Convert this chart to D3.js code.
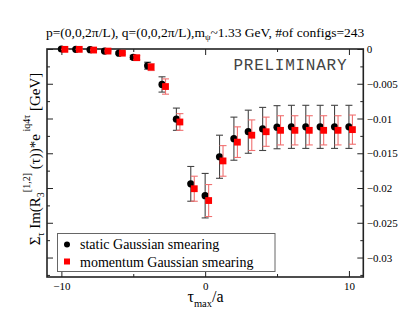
<!DOCTYPE html>
<html><head><meta charset="utf-8">
<script src="https://cdn.jsdelivr.net/npm/d3@7"></script>
<style>body{margin:0;background:#fff}svg{display:block}text{font-family:"Liberation Serif","Times New Roman",serif}</style>
</head><body>
<script>
const tau = [-10,-9,-8,-7,-6,-5,-4,-3,-2,-1,0,1,2,3,4,5,6,7,8,9,10];
const staticVals = [0,-0.00005,-0.0001,-0.0003,-0.0006,-0.0012,-0.0024,-0.0051,-0.0101,-0.0194,-0.0211,-0.0155,-0.0129,-0.0119,-0.0115,-0.01125,-0.0112,-0.0112,-0.0112,-0.0112,-0.0112];
const staticErr = [0.00003,0.00003,0.00005,0.0001,0.00015,0.0003,0.0005,0.0011,0.0016,0.0025,0.0032,0.0031,0.0031,0.0031,0.0031,0.0031,0.0031,0.0031,0.0031,0.0031,0.0031];
const momVals = [-0.00005,-0.00005,-0.00015,-0.0003,-0.0006,-0.00125,-0.0026,-0.0054,-0.0105,-0.0201,-0.0218,-0.0161,-0.0134,-0.0124,-0.0119,-0.0117,-0.0117,-0.0117,-0.0117,-0.0117,-0.0116];
const momErr = [0.00003,0.00003,0.00005,0.0001,0.00015,0.0003,0.0005,0.0011,0.0012,0.0018,0.0023,0.0022,0.0022,0.0022,0.0021,0.0021,0.0021,0.0021,0.0021,0.0021,0.0021];
const xTicks = [-10,0,10];
const xMinor = [-5,5];
const yTicks = [0,-0.005,-0.01,-0.015,-0.02,-0.025,-0.03];
const yMinor = [-0.0025,-0.0075,-0.0125,-0.0175,-0.0225,-0.0275,-0.0325];
const seriesNames = ["static Gaussian smearing","momentum Gaussian smearing"];

const W=409,H=327;
const L=47,R=363.3,T=49,B=277;
const x=d3.scaleLinear().domain([-11,11]).range([L,R]);
const y=d3.scaleLinear().domain([-0.0328,0]).range([B,T]);
const svg=d3.select("body").append("svg").attr("width",W).attr("height",H);
const serif="'Liberation Serif','Times New Roman',serif";

// title
const title=svg.append("text").attr("x",(L+R)/2).attr("y",37).attr("text-anchor","middle").attr("font-size",13.5).attr("fill","#000");
title.append("tspan").text("p=(0,0,2\u03c0/L), q=(0,0,2\u03c0/L),m");
title.append("tspan").attr("font-size",9).attr("dy",3).text("\u03c8");
title.append("tspan").attr("dy",-3).text("~1.33 GeV, #of configs=243");

// PRELIMINARY
svg.append("text").attr("x",233.5).attr("y",70.3)
  .attr("font-size",16).attr("fill","#444").attr("textLength",113).attr("lengthAdjust","spacing")
  .style("font-family","'Liberation Mono','DejaVu Sans Mono',monospace").text("PRELIMINARY");

// axes
const axG=svg.append("g");
const frameColor="#222";
axG.append("g").attr("transform",`translate(0,${B})`).call(d3.axisBottom(x).tickValues(xTicks).tickSize(-6).tickPadding(5).tickFormat(d3.format("d")));
axG.append("g").attr("transform",`translate(0,${T})`).call(d3.axisTop(x).tickValues(xTicks).tickSize(-6).tickFormat(""));
axG.append("g").attr("transform",`translate(0,${B})`).call(d3.axisBottom(x).tickValues(xMinor).tickSize(-3).tickFormat(""));
axG.append("g").attr("transform",`translate(0,${T})`).call(d3.axisTop(x).tickValues(xMinor).tickSize(-3).tickFormat(""));
axG.append("g").attr("transform",`translate(${R},0)`).call(d3.axisRight(y).tickValues(yTicks).tickSize(-6).tickPadding(3.5).tickFormat(d=>d===0?"0":d3.format("")(d)));
axG.append("g").attr("transform",`translate(${L},0)`).call(d3.axisLeft(y).tickValues(yTicks).tickSize(-6).tickFormat(""));
const ym=yMinor.filter(v=>v>-0.0328);
axG.append("g").attr("transform",`translate(${R},0)`).call(d3.axisRight(y).tickValues(ym).tickSize(-3).tickFormat(""));
axG.append("g").attr("transform",`translate(${L},0)`).call(d3.axisLeft(y).tickValues(ym).tickSize(-3).tickFormat(""));
axG.selectAll("g").attr("font-family",serif);
axG.selectAll(".domain").remove();
axG.selectAll(".tick line").attr("stroke",frameColor).attr("stroke-width",1);
axG.selectAll(".tick text").attr("font-size",11).attr("fill","#000").style("font-family",serif);
svg.append("rect").attr("x",L).attr("y",T).attr("width",R-L).attr("height",B-T).attr("fill","none").attr("stroke",frameColor).attr("stroke-width",1.6);

// data
const cap=3.5;
function errBars(vals,errs,dx,color,width){
  const g=svg.append("g").attr("stroke",color).attr("stroke-width",width).attr("fill","none");
  tau.forEach((t,i)=>{
    const cx=x(t)+dx,y1=y(vals[i]+errs[i]),y2=y(vals[i]-errs[i]);
    g.append("line").attr("x1",cx).attr("x2",cx).attr("y1",y1).attr("y2",y2);
    g.append("line").attr("x1",cx-cap).attr("x2",cx+cap).attr("y1",y1).attr("y2",y1);
    g.append("line").attr("x1",cx-cap).attr("x2",cx+cap).attr("y1",y2).attr("y2",y2);
  });
}
errBars(staticVals,staticErr,0,"#444",1.1);
svg.append("g").selectAll("circle").data(tau).join("circle")
  .attr("cx",d=>x(d)).attr("cy",(d,i)=>y(staticVals[i])).attr("r",3.6).attr("fill","#000");
errBars(momVals,momErr,3.5,"#f07070",1.1);
svg.append("g").selectAll("rect").data(tau).join("rect")
  .attr("x",d=>x(d)+3.5-3.4).attr("y",(d,i)=>y(momVals[i])-3.4).attr("width",6.8).attr("height",6.8).attr("fill","#f00");

// legend
const lg=svg.append("g");
lg.append("rect").attr("x",57.5).attr("y",233.5).attr("width",217.5).attr("height",38).attr("fill","#fff").attr("stroke","#666").attr("stroke-width",1);
lg.append("circle").attr("cx",67).attr("cy",244.5).attr("r",3).attr("fill","#000");
lg.append("rect").attr("x",64).attr("y",258.5).attr("width",6).attr("height",6).attr("fill","#f00");
lg.append("text").attr("x",80).attr("y",249).attr("font-size",14).text(seriesNames[0]);
lg.append("text").attr("x",80).attr("y",266.5).attr("font-size",14).text(seriesNames[1]);

// x label
const xl=svg.append("text").attr("x",205.5).attr("y",302).attr("text-anchor","middle").attr("font-size",16);
xl.append("tspan").text("\u03c4");
xl.append("tspan").attr("font-size",10.5).attr("dy",5).text("max");
xl.append("tspan").attr("dy",-5).text("/a");

// y label
const yl=svg.append("text").attr("transform","translate(40,159) rotate(-90)").attr("text-anchor","middle").attr("font-size",15);
yl.append("tspan").text("\u03a3");
yl.append("tspan").attr("font-size",10).attr("dy",4).text("\u03c4");
yl.append("tspan").attr("dy",-4).text(" Im(R");
yl.append("tspan").attr("font-size",10).attr("dy",4).text("3");
yl.append("tspan").attr("font-size",10).attr("dy",-14).text("[1,2]");
yl.append("tspan").attr("dy",10).text(" (\u03c4))*e");
yl.append("tspan").attr("font-size",10).attr("dy",-10).text(" iq4\u03c4");
yl.append("tspan").attr("dy",10).text(" [GeV]");
</script>
</body></html>
